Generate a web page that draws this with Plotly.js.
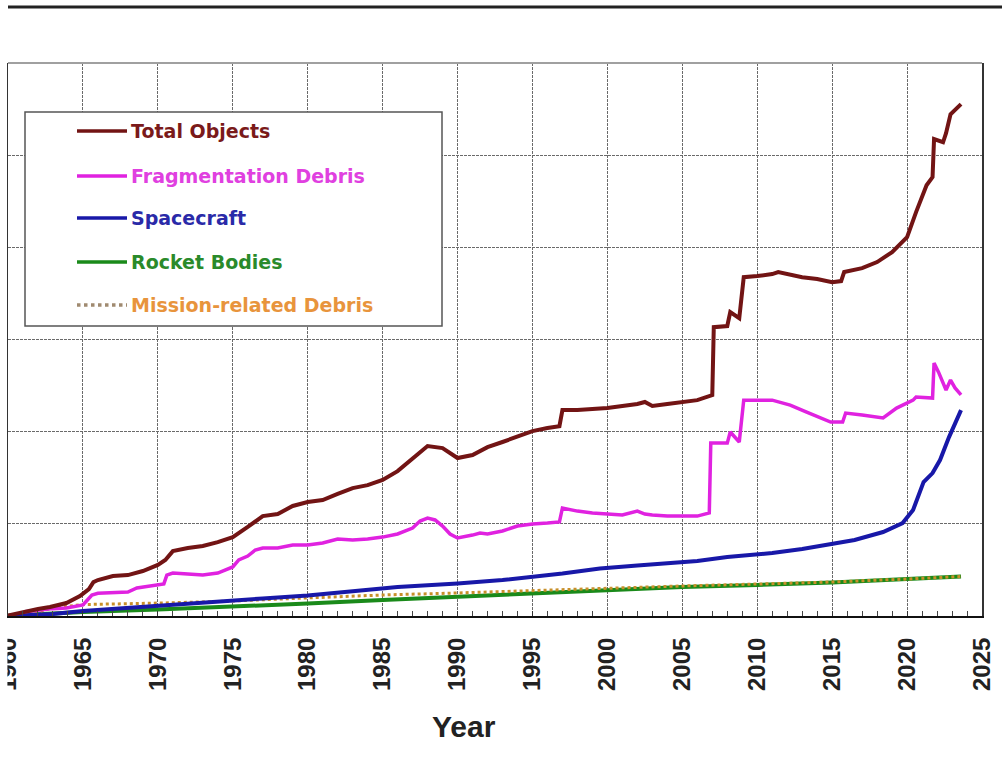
<!DOCTYPE html>
<html><head><meta charset="utf-8">
<script src="https://cdn.plot.ly/plotly-3.0.1.min.js"></script>
<style>html,body{margin:0;padding:0;background:#fff;}#chart{width:1002px;height:759px;}</style>
</head><body><div id="chart"></div>
<script>
const seriesNames = ["Total Objects", "Fragmentation Debris", "Spacecraft", "Rocket Bodies", "Mission-related Debris"];

const totalYears = [1960,1961,1962,1962.8,1963.9,1964.8,1965.4,1965.7,1966,1967,1968,1969,1970,1970.5,1971,1972,1973,1974,1975,1976,1977,1978,1979,1980,1981,1982,1983,1984,1985,1986,1987,1988,1989,1990,1991,1992,1993,1994,1995,1996,1996.8,1997,1998,1999,2000,2001,2002,2002.5,2003,2004,2005,2006,2007,2007.1,2008,2008.2,2008.8,2009.1,2010,2011,2011.4,2012,2013,2014,2015,2015.6,2015.8,2017,2018,2019,2020,2020.6,2021,2021.3,2021.7,2021.8,2022.4,2022.6,2022.9,2023.2,2023.6];
const totalValues = [30,217,380,490,705,1085,1460,1840,1950,2170,2220,2440,2770,3040,3520,3690,3800,4010,4280,4830,5420,5530,5970,6180,6290,6620,6940,7100,7380,7860,8570,9220,9110,8570,8730,9160,9440,9760,10030,10200,10300,11170,11170,11230,11280,11390,11500,11610,11390,11500,11610,11710,11980,15670,15730,16490,16160,18380,18440,18550,18660,18550,18380,18280,18110,18170,18660,18870,19200,19740,20550,21910,22670,23370,23810,25870,25700,26190,27220,27440,27770];

const fragYears = [1961.1,1962,1963,1963.9,1965,1965.3,1965.6,1966,1967,1968,1968.6,1969,1970,1970.4,1970.6,1971,1972,1973,1974,1974.5,1975,1975.4,1976,1976.5,1977,1978,1979,1980,1981,1982,1983,1984,1985,1986,1987,1987.5,1988,1988.5,1989,1989.5,1990,1991,1991.5,1992,1993,1994,1995,1996,1996.8,1997,1998,1999,2000,2001,2002,2002.5,2003,2004,2005,2006,2006.8,2006.9,2008,2008.2,2008.8,2009.1,2011,2012.2,2013.3,2014.9,2015.7,2015.9,2017,2018.4,2019.3,2020.4,2020.6,2021.7,2021.8,2022.1,2022.6,2022.9,2023.2,2023.6];
const fragValues = [230,330,400,430,600,870,1140,1230,1250,1300,1520,1570,1680,1740,2220,2330,2280,2220,2330,2490,2660,3040,3250,3580,3690,3690,3850,3850,3960,4180,4120,4180,4280,4450,4770,5150,5310,5210,4880,4450,4230,4390,4500,4450,4610,4880,4990,5040,5100,5860,5690,5590,5530,5480,5690,5530,5480,5420,5420,5420,5590,9380,9380,9980,9440,11710,11710,11440,11060,10520,10520,11010,10900,10740,11280,11710,11880,11820,13720,13230,12260,12800,12370,11990];

const scYears = [1960,1961,1963,1965,1967,1970,1972,1975,1977,1980,1983,1986,1990,1993,1997,1999.5,2002,2006,2008,2011,2013,2015,2016.5,2018.4,2019.7,2020.4,2021.1,2021.7,2022.2,2022.8,2023.6];
const scValues = [0,27,108,271,380,542,624,786,949,1112,1329,1573,1762,1952,2305,2576,2739,2983,3200,3416,3633,3905,4121,4555,5043,5748,7267,7755,8460,9707,11171];

const rbYears = [1960,1962,1965,1970,1975,1980,1985,1990,1995,2000,2005,2010,2015,2020,2023.6];
const rbValues = [10,108,217,352,488,678,868,1057,1231,1437,1573,1681,1817,2007,2142];

const mrdYears = [1961,1962,1963,1964,1965,1970,1975,1980,1985,1990,1995,2000,2005,2010,2015,2020,2023.6];
const mrdValues = [30,200,450,550,620,700,810,980,1140,1250,1380,1520,1630,1735,1845,2007,2142];

const xTickVals = [1960,1965,1970,1975,1980,1985,1990,1995,2000,2005,2010,2015,2020,2025];
const xTickText = ["1960","1965","1970","1975","1980","1985","1990","1995","2000","2005","2010","2015","2020","2025"];

const lineColors = ["#721414", "#e022e0", "#1818a8", "#1a8a1a", "#c8902a"];
const textColors = ["#7a1a1a", "#e040e0", "#2a2aa8", "#2a8a2a", "#e8943c"];

const traces = [
  {x: rbYears, y: rbValues, name: seriesNames[3], mode: "lines", line: {color: lineColors[3], width: 4}},
  {x: mrdYears, y: mrdValues, name: seriesNames[4], mode: "lines", line: {color: lineColors[4], width: 3, dash: "dot"}},
  {x: scYears, y: scValues, name: seriesNames[2], mode: "lines", line: {color: lineColors[2], width: 4}},
  {x: fragYears, y: fragValues, name: seriesNames[1], mode: "lines", line: {color: lineColors[1], width: 3.5}},
  {x: totalYears, y: totalValues, name: seriesNames[0], mode: "lines", line: {color: lineColors[0], width: 4}}
].map(t => Object.assign(t, {showlegend: false, hoverinfo: "skip"}));

// pixel helpers for layout decorations
const L = 8, R = 20, T = 63, B = 143, W = 1002, H = 759;
const pw = W - L - R, ph = H - T - B;
const px = v => (v - L) / pw;
const py = v => (H - B - v) / ph;

const shapes = [
  {type: "line", xref: "paper", yref: "paper", x0: px(8), x1: px(1002), y0: py(7), y1: py(7), line: {color: "#222", width: 3}},
  {type: "line", xref: "paper", yref: "paper", x0: 0, x1: 1, y0: 1, y1: 1, line: {color: "#a0a0a0", width: 2}},
  {type: "rect", xref: "paper", yref: "paper", x0: px(0), x1: px(7.4), y0: py(622), y1: py(700), fillcolor: "#fff", line: {width: 0}, layer: "above"},
  {type: "rect", xref: "paper", yref: "paper", x0: px(25), x1: px(442), y0: py(326), y1: py(112), fillcolor: "#fff", line: {color: "#555", width: 1.5}, layer: "above"}
];
const legendY = [131, 176, 218, 262, 305];
const annotations = [];
seriesNames.forEach((n, i) => {
  shapes.push({type: "line", xref: "paper", yref: "paper", x0: px(77), x1: px(127), y0: py(legendY[i]), y1: py(legendY[i]),
    line: {color: i === 4 ? "#a08a70" : lineColors[i], width: 3.5, dash: i === 4 ? "dot" : "solid"}, layer: "above"});
  annotations.push({xref: "paper", yref: "paper", x: px(129), y: py(legendY[i]), xanchor: "left", yanchor: "middle",
    text: "<b>" + n + "</b>", showarrow: false, font: {family: "DejaVu Sans", size: 19, color: textColors[i]}});
});
annotations.push({xref: "paper", yref: "paper", x: px(464), y: py(726), xanchor: "center", yanchor: "middle",
  text: "<b>Year</b>", showarrow: false, font: {family: "Liberation Sans, Arial", size: 30, color: "#222"}});

const layout = {
  width: W, height: H,
  margin: {l: L, r: R, t: T, b: B},
  paper_bgcolor: "#fff", plot_bgcolor: "#fff",
  showlegend: false,
  xaxis: {
    range: [1960, 2025], tickvals: xTickVals, ticktext: xTickText, tickangle: -90,
    tickfont: {family: "Liberation Sans, Arial", size: 24, color: "#222", weight: "bold"},
    ticks: "inside", ticklen: 5, tickcolor: "#333", ticklabelstandoff: 10, ticklabeloverflow: "allow",
    showgrid: true, gridcolor: "#6a6a6a", griddash: "3px,1px", gridwidth: 1,
    showline: true, linecolor: "#111", linewidth: 2, zeroline: false,
    minor: {dtick: 1, ticks: "inside", ticklen: 5, tickcolor: "#444", showgrid: false}
  },
  yaxis: {
    range: [0, 30000], dtick: 5000, showticklabels: false, ticks: "",
    showgrid: true, gridcolor: "#6a6a6a", griddash: "3px,1px", gridwidth: 1,
    showline: true, mirror: true, linecolor: "#333", linewidth: 1.5, zeroline: false
  },
  shapes: shapes,
  annotations: annotations
};

Plotly.newPlot("chart", traces, layout, {staticPlot: true, displayModeBar: false});
</script>
</body></html>
